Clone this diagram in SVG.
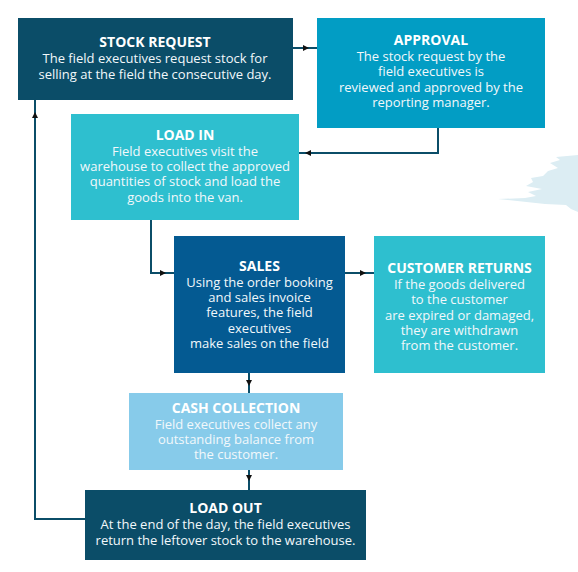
<svg xmlns="http://www.w3.org/2000/svg" width="578" height="572" viewBox="0 0 578 572">
<defs>
<style>
.t{font-family:"Open Sans","Liberation Sans",sans-serif;font-size:14px;font-weight:bold;fill:#ffffff;text-anchor:middle}
.b{font-family:"Open Sans","Liberation Sans",sans-serif;font-size:13px;fill:#f2f8fb;text-anchor:middle}
.c{fill:none;stroke:#0b4d68;stroke-width:2;marker-end:url(#ah)}
</style>
<marker id="ah" viewBox="0 0 6 6" refX="6" refY="3" markerWidth="6" markerHeight="7" markerUnits="userSpaceOnUse" orient="auto">
<path d="M0,0 L6,3 L0,6 Z" fill="#111111"/>
</marker>
</defs>
<rect width="578" height="572" fill="#ffffff"/>
<path d="M556,157 L578,155 L578,212 L571,209 L566,205 L545,204 L498,199 L525,198 L536,196 L528,192 L542,189 L526,186 L533,182 L531,178 L543,176 L548,171 L558,168 L550,163 L560,160 Z" fill="#dcedf3"/>
<g id="connectors">
<path class="c" d="M293,48 H317 M303,48 H309"/>
<path class="c" d="M438,128 V153 H299 M311,153 H305"/>
<path class="c" d="M151,220 V273 H174 M160,273 H166"/>
<path class="c" d="M345,273 H374 M360,273 H366"/>
<path class="c" d="M249,373 V393 M249,380 V386"/>
<path class="c" d="M249,470 V490 M249,475 V481"/>
<path class="c" d="M85,519 H35 V100 M35,118 V112"/>
</g>
<g id="stock-request">
<rect x="18" y="18" width="275" height="82" fill="#0b4d68"/>
<text class="t" x="155" y="47">STOCK REQUEST</text>
<text class="b" x="155" y="63">The field executives request stock for</text>
<text class="b" x="155" y="78.5">selling at the field the consecutive day.</text>
</g>
<g id="approval">
<rect x="317" y="18" width="228" height="110" fill="#029dc4"/>
<text class="t" x="431" y="45">APPROVAL</text>
<text class="b" x="431" y="61">The stock request by the</text>
<text class="b" x="431" y="76.3">field executives is</text>
<text class="b" x="431" y="91.6">reviewed and approved by the</text>
<text class="b" x="431" y="107">reporting manager.</text>
</g>
<g id="load-in">
<rect x="71" y="114" width="228" height="106" fill="#2ebfcf"/>
<text class="t" x="185" y="139.5">LOAD IN</text>
<text class="b" x="185" y="156">Field executives visit the</text>
<text class="b" x="185" y="171">warehouse to collect the approved</text>
<text class="b" x="185" y="186.3">quantities of stock and load the</text>
<text class="b" x="185" y="201.6">goods into the van.</text>
</g>
<g id="sales">
<rect x="174" y="236" width="171" height="137" fill="#045a92"/>
<text class="t" x="259.5" y="270.7">SALES</text>
<text class="b" x="259.5" y="286.7">Using the order booking</text>
<text class="b" x="259.5" y="302">and sales invoice</text>
<text class="b" x="259.5" y="317.3">features, the field</text>
<text class="b" x="259.5" y="332.7">executives</text>
<text class="b" x="259.5" y="348">make sales on the field</text>
</g>
<g id="customer-returns">
<rect x="374" y="236" width="171" height="137" fill="#2ebfcf"/>
<text class="t" x="459.5" y="273.3">CUSTOMER RETURNS</text>
<text class="b" x="459.5" y="289">If the goods delivered</text>
<text class="b" x="459.5" y="304.3">to the customer</text>
<text class="b" x="459.5" y="319.7">are expired or damaged,</text>
<text class="b" x="459.5" y="335.3">they are withdrawn</text>
<text class="b" x="459.5" y="350.3">from the customer.</text>
</g>
<g id="cash-collection">
<rect x="129" y="393" width="214" height="77" fill="#87cbea"/>
<text class="t" x="236" y="412.7">CASH COLLECTION</text>
<text class="b" x="236" y="428.7">Field executives collect any</text>
<text class="b" x="236" y="444.3">outstanding balance from</text>
<text class="b" x="236" y="459.3">the customer.</text>
</g>
<g id="load-out">
<rect x="85" y="490" width="281" height="70" fill="#0b4d68"/>
<text class="t" x="225.5" y="512.7">LOAD OUT</text>
<text class="b" x="225.5" y="528.7">At the end of the day, the field executives</text>
<text class="b" x="225.5" y="544.7">return the leftover stock to the warehouse.</text>
</g>
</svg>
